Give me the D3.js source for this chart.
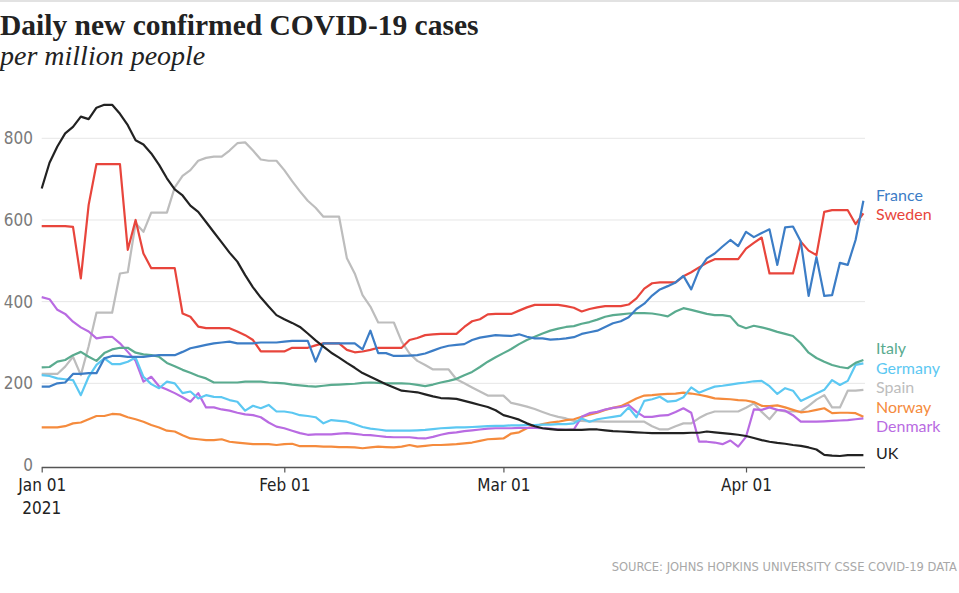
<!DOCTYPE html>
<html>
<head>
<meta charset="utf-8">
<script src="https://cdn.jsdelivr.net/npm/d3@7"></script>
<style>
body { margin: 0; background: #fff; }
.narrow { font-family: "Liberation Sans Narrow", "DejaVu Sans Condensed", "Roboto Condensed", sans-serif; }
</style>
</head>
<body>
<div id="chart"></div>
<script>
// daily values per million, Jan 01 .. Apr 16 2021
var startDate = new Date(Date.UTC(2021, 0, 1));

var uk = [677,740,780,812,828,853,847,875,882,882,
          860,832,795,785,763,735,702,675,660,635,
          620,595,570,545,520,498,465,435,410,388,
          367,357,348,338,322,305,290,275,263,250,
          238,225,216,207,198,190,182,180,178,173,
          168,164,163,162,157,152,147,142,134,122,
          117,111,102,95,90,88,86,86,86,86,
          87,87,85,83,82,81,80,79,78,78,
          78,78,78,79,79,82,80,78,76,74,
          71,66,61,57,54,52,49,47,43,38,
          25,23,22,24,24,24];

var spain = [223,223,223,241,265,220,291,373,373,373,
             469,472,592,571,618,618,618,680,708,722,
             745,752,755,755,770,788,790,770,748,745,
             745,722,695,670,647,630,608,608,608,506,
             469,416,388,349,349,349,302,273,255,245,
             234,234,234,210,200,190,180,170,170,170,
             152,148,143,137,130,123,118,114,108,108,
             107,107,106,106,106,106,106,106,95,87,
             87,95,102,102,115,125,131,131,131,131,
             140,151,130,112,135,131,131,131,145,160,
             171,141,141,182,182,184];

var sweden = [585,585,585,585,583,457,637,737,737,737,
              737,527,600,518,482,482,482,482,371,363,
              339,335,335,335,335,327,318,306,278,278,
              278,278,287,287,287,293,298,298,298,282,
              276,278,282,287,287,287,287,306,311,318,
              320,321,321,321,338,352,357,369,370,370,
              370,378,386,392,392,392,392,389,385,376,
              382,386,389,389,389,393,408,432,445,447,
              447,447,462,472,484,495,504,504,504,504,
              530,544,557,469,469,469,469,547,525,514,
              620,624,624,624,590,616];

var france = [192,192,200,202,223,223,225,225,261,267,
              267,265,265,265,267,269,269,269,277,286,
              290,294,298,300,302,298,298,298,300,300,
              300,302,304,304,304,253,298,298,298,298,
              298,283,329,274,274,267,267,268,269,273,
              280,287,292,294,296,306,312,315,318,317,
              316,320,314,310,310,307,308,310,313,321,
              325,329,338,347,352,362,382,395,415,430,
              438,447,463,430,478,506,518,535,551,536,
              571,558,568,577,490,582,584,547,414,509,
              414,416,495,490,551,647];

var italy = [239,240,253,257,269,277,265,255,274,283,
             287,287,275,271,269,265,250,242,233,226,
             218,212,202,202,202,202,204,204,204,202,
             201,200,197,195,193,192,194,196,197,198,
             199,201,202,201,200,200,200,199,196,193,
             197,202,206,211,220,228,240,253,264,274,
             284,296,306,314,322,329,334,338,340,346,
             350,356,363,367,369,371,372,372,371,368,
             364,376,384,380,375,370,367,367,364,342,
             335,341,337,332,326,321,316,298,275,262,
             253,245,240,237,250,257];

var germany = [220,218,212,210,208,171,216,245,261,247,
               247,253,263,216,198,188,204,200,176,180,
               163,171,167,166,159,155,133,145,139,147,
               131,131,128,122,120,117,102,110,108,106,
               100,93,89,87,84,84,84,84,85,86,
               88,90,91,92,92,93,94,95,96,96,
               97,97,98,98,99,99,100,100,102,114,
               106,112,115,118,121,141,117,157,161,167,
               155,157,166,190,177,185,192,194,197,200,
               202,205,206,193,174,188,182,157,166,175,
               184,208,196,206,245,249];

var norway = [92,92,92,95,102,104,112,120,120,125,
              124,117,112,106,98,92,84,82,73,65,
              63,61,61,63,57,55,53,51,51,51,
              49,51,52,46,46,46,45,45,44,44,
              43,41,43,45,44,43,45,49,45,47,
              49,49,50,51,53,55,59,63,64,65,
              77,80,90,95,100,104,106,110,112,118,
              123,128,135,140,144,153,163,170,171,173,
              174,175,177,175,172,168,163,162,161,159,
              158,154,145,144,146,141,135,129,131,135,
              139,127,128,128,127,118];

var denmark = [411,406,380,370,351,337,327,310,313,314,
               298,277,255,204,216,193,185,176,166,155,
               176,141,141,136,133,128,124,122,117,104,
               94,90,84,78,74,75,75,75,77,78,
               76,74,73,71,69,68,68,68,66,65,
               69,74,78,80,83,85,87,89,90,90,
               90,91,91,91,90,89,87,86,87,118,
               127,130,136,140,142,147,130,118,118,121,
               122,130,139,128,57,57,55,51,60,45,
               69,136,135,141,135,133,122,106,106,106,
               107,108,109,110,112,114];

var yTicks = [0, 200, 400, 600, 800];
var monthTicks = ["2021-01-01", "2021-02-01", "2021-03-01", "2021-04-01"];

// drawing order: back to front
var series = [
    {name: "Spain",   color: "#bdbdbd", values: spain},
    {name: "Norway",  color: "#f58b3d", values: norway},
    {name: "Denmark", color: "#b96be2", values: denmark},
    {name: "Germany", color: "#5cc8f2", values: germany},
    {name: "Italy",   color: "#5aab8f", values: italy},
    {name: "Sweden",  color: "#e8453c", values: sweden},
    {name: "France",  color: "#3c7dc6", values: france},
    {name: "UK",      color: "#222222", values: uk}
];

var width = 959, height = 593;
var svg = d3.select("#chart").append("svg")
    .attr("width", width)
    .attr("height", height);

var x = d3.scaleUtc()
    .domain([startDate, d3.utcDay.offset(startDate, uk.length - 1)])
    .range([41.7, 863.4]);
var y = d3.scaleLinear()
    .domain([0, 800])
    .range([465, 138.3]);

// thin rule at the very top
svg.append("rect").attr("x", 0).attr("y", 0)
    .attr("width", width).attr("height", 2).attr("fill", "#e2e2e2");

// titles
svg.append("text")
    .attr("x", 0).attr("y", 35)
    .attr("font-family", "'Liberation Serif', 'DejaVu Serif', serif")
    .attr("font-weight", 700).attr("font-size", "29.5px")
    .attr("fill", "#222")
    .text("Daily new confirmed COVID-19 cases");
svg.append("text")
    .attr("x", 0).attr("y", 65)
    .attr("font-family", "'Liberation Serif', 'DejaVu Serif', serif")
    .attr("font-style", "italic").attr("font-size", "28px")
    .attr("fill", "#222")
    .text("per million people");

// gridlines + y labels
svg.selectAll(".grid")
    .data(yTicks.filter(function(d) { return d > 0; }))
    .enter().append("line")
    .attr("x1", 41.7).attr("x2", 865)
    .attr("y1", function(d) { return y(d); })
    .attr("y2", function(d) { return y(d); })
    .attr("stroke", "#e6e6e6").attr("stroke-width", 1);

svg.selectAll(".ylab")
    .data(yTicks).enter()
    .append("text")
    .attr("class", "narrow")
    .attr("x", 33)
    .attr("y", function(d) { return y(d); })
    .attr("dy", "0.35em")
    .attr("text-anchor", "end")
    .attr("font-size", "17px")
    .attr("fill", "#7a7a7a")
    .text(function(d) { return d; });

// x axis
var months = monthTicks.map(function(s) { return new Date(s + "T00:00:00Z"); });
var xAxis = svg.append("g")
    .attr("transform", "translate(0," + 467.5 + ")")
    .call(d3.axisBottom(x)
        .tickValues(months)
        .tickFormat(d3.utcFormat("%b %d"))
        .tickSize(5)
        .tickPadding(6));
xAxis.select(".domain").remove();
xAxis.selectAll(".tick line").attr("stroke", "#555").attr("stroke-width", 1.2);
xAxis.selectAll(".tick text")
    .attr("class", "narrow")
    .attr("font-family", null)
    .attr("font-size", "17px")
    .attr("fill", "#222");
xAxis.append("line")
    .attr("x1", 41.7).attr("x2", 865)
    .attr("stroke", "#555").attr("stroke-width", 1.3);
svg.append("text")
    .attr("class", "narrow")
    .attr("x", x(months[0])).attr("y", 514)
    .attr("text-anchor", "middle")
    .attr("font-size", "17px").attr("fill", "#222")
    .text("2021");

// lines
var line = d3.line()
    .x(function(d, i) { return x(d3.utcDay.offset(startDate, i)); })
    .y(function(d) { return y(d); });

svg.selectAll(".series")
    .data(series).enter()
    .append("path")
    .attr("d", function(s) { return line(s.values); })
    .attr("fill", "none")
    .attr("stroke", function(s) { return s.color; })
    .attr("stroke-width", 2.2)
    .attr("stroke-linejoin", "round");

// end labels, pushed apart so they don't overlap
var labels = series.map(function(s) {
    return {name: s.name, color: s.color, y: y(s.values[s.values.length - 1])};
});
labels.sort(function(a, b) { return a.y - b.y; });
var gap = 19.5;
for (var k = 0; k < 200; k++) {
    for (var i = 1; i < labels.length; i++) {
        var over = gap - (labels[i].y - labels[i - 1].y);
        if (over > 0) {
            labels[i - 1].y -= over / 2;
            labels[i].y += over / 2;
        }
    }
}
svg.selectAll(".endlab")
    .data(labels).enter()
    .append("text")
    .attr("x", 876)
    .attr("y", function(d) { return d.y - 2; })
    .attr("dy", "0.35em")
    .attr("font-family", "Lato, 'Open Sans', sans-serif")
    .attr("font-size", "16px")
    .attr("fill", function(d) { return d.color; })
    .text(function(d) { return d.name; });

// source
svg.append("text")
    .attr("class", "narrow")
    .attr("x", 957).attr("y", 571)
    .attr("text-anchor", "end")
    .attr("font-size", "12.8px")
    .attr("fill", "#a8a8a8")
    .text("SOURCE: JOHNS HOPKINS UNIVERSITY CSSE COVID-19 DATA");
</script>
</body>
</html>
